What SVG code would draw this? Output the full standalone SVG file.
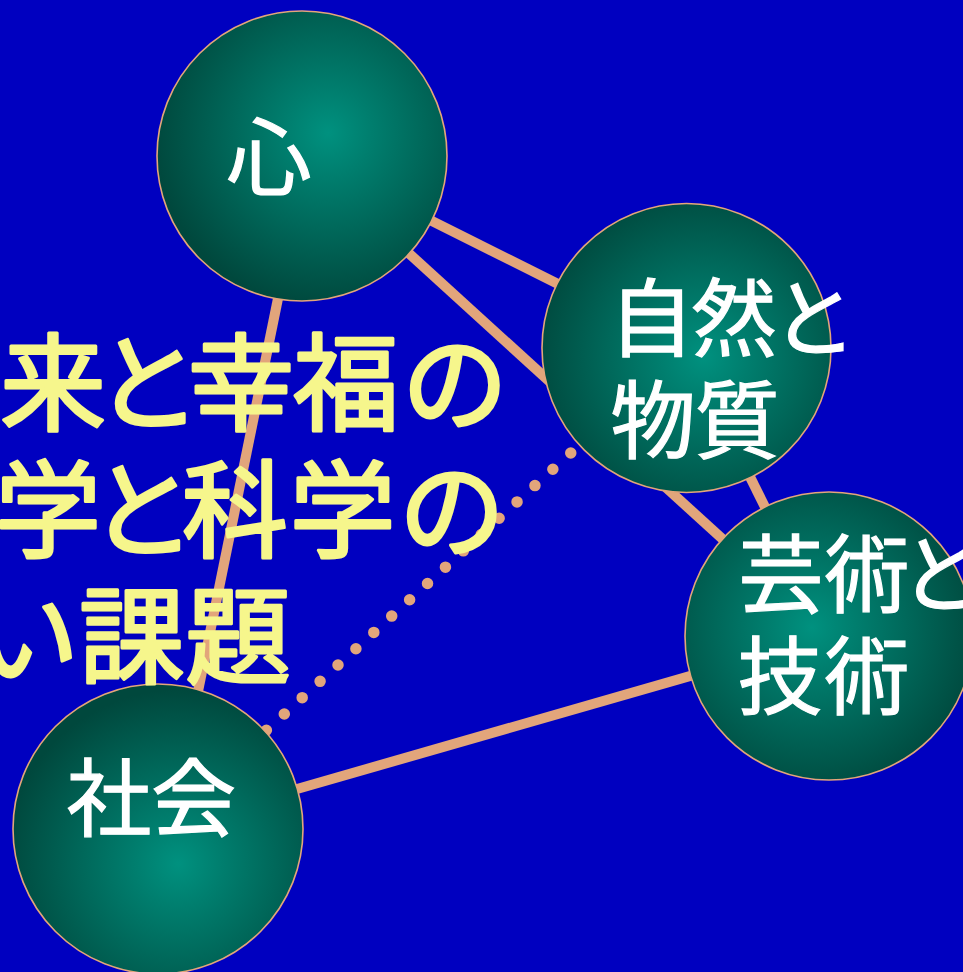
<svg xmlns="http://www.w3.org/2000/svg" width="963" height="972" viewBox="0 0 963 972">
  <defs>
    <style>
      .ball { stroke: #E3A57A; stroke-width: 1.6; }
      .link { stroke: #E2A57B; stroke-width: 10; fill: none; }
      .dots { stroke: #E2A57B; stroke-width: 11.5; fill: none; stroke-linecap: round; stroke-dasharray: 0 24.22; stroke-dashoffset: -1.3; }
      .label { font-family: "Noto Sans CJK JP", "Noto Sans", sans-serif; font-size: 85px; fill: #FFFFFF; stroke: #FFFFFF; stroke-width: 1.2; }
      .title { font-family: "Noto Sans CJK JP", "Noto Sans", sans-serif; font-size: 106px; fill: #F6F68C; stroke: #F6F68C; stroke-width: 3; stroke-linejoin: round; }
    </style>
    <radialGradient id="shade-kokoro" cx="0.59" cy="0.42" r="0.6">
      <stop offset="0" stop-color="#00917F"/>
      <stop offset="0.25" stop-color="#007E6E"/>
      <stop offset="1" stop-color="#00483D"/>
    </radialGradient>
    <radialGradient id="shade-shizen" cx="0.56" cy="0.53" r="0.6">
      <stop offset="0" stop-color="#00917F"/>
      <stop offset="0.25" stop-color="#007E6E"/>
      <stop offset="1" stop-color="#00483D"/>
    </radialGradient>
    <radialGradient id="shade-geijutsu" cx="0.44" cy="0.47" r="0.6">
      <stop offset="0" stop-color="#00917F"/>
      <stop offset="0.25" stop-color="#007E6E"/>
      <stop offset="1" stop-color="#00483D"/>
    </radialGradient>
    <radialGradient id="shade-shakai" cx="0.57" cy="0.62" r="0.6">
      <stop offset="0" stop-color="#00917F"/>
      <stop offset="0.25" stop-color="#007E6E"/>
      <stop offset="1" stop-color="#00483D"/>
    </radialGradient>
  </defs>

  <!-- background -->
  <rect x="0" y="0" width="963" height="972" fill="#0000C0"/>

  <!-- links between the four spheres -->
  <g id="connectors">
    <line class="link" x1="302" y1="156" x2="686" y2="348"/>
    <line class="link" x1="302" y1="156" x2="829" y2="636"/>
    <line class="link" x1="686" y1="348" x2="829" y2="636"/>
    <line class="link" x1="307" y1="156" x2="170" y2="829"/>
    <line class="link" x1="158" y1="829" x2="829" y2="636"/>
    <line class="dots" x1="158" y1="829" x2="686" y2="348"/>
  </g>

  <g id="node-kokoro">
    <circle class="ball" cx="302" cy="156" r="145" fill="url(#shade-kokoro)"/>
    <text class="label" x="226.5" y="189">心</text>
  </g>

  <g id="node-shizen">
    <circle class="ball" cx="686.5" cy="348" r="144.5" fill="url(#shade-shizen)"/>
    <text class="label" x="609 691.5 771.5" y="350">自然と</text>
    <text class="label" x="610.5 694.5" y="452">物質</text>
  </g>

  <g id="node-geijutsu">
    <circle class="ball" cx="829" cy="636" r="144" fill="url(#shade-geijutsu)"/>
    <text class="label" x="738.5 824.5 899.5" y="606">芸術と</text>
    <text class="label" x="737.5 824.5" y="708">技術</text>
  </g>

  <g id="node-shakai">
    <circle class="ball" cx="158" cy="829" r="145" fill="url(#shade-shakai)"/>
    <text class="label" x="66.5 151" y="830">社会</text>
  </g>

  <!-- heading text running off the left edge -->
  <g id="title">
    <text class="title" x="0 95 188 293 402" y="422">来と幸福の</text>
    <text class="title" x="-5 89.5 182 289.5 399" y="549">学と科学の</text>
    <text class="title" x="-27 79 185" y="675">い課題</text>
  </g>
</svg>
